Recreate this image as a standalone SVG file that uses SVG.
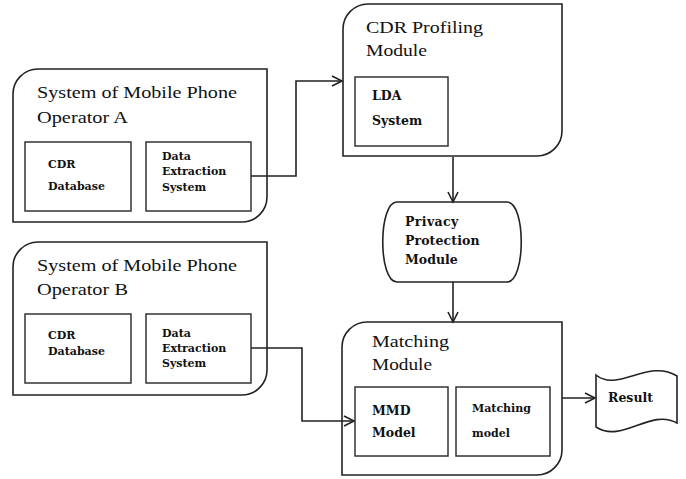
<svg xmlns="http://www.w3.org/2000/svg" width="686" height="479" viewBox="0 0 686 479">
  <defs>
    <marker id="arr" markerUnits="userSpaceOnUse" markerWidth="14" markerHeight="14" refX="11" refY="6" orient="auto">
      <path d="M1,1 L11,6 L1,11" fill="none" stroke="#222" stroke-width="1.6"/>
    </marker>
    <style>
      .outer { fill: #fff; stroke: #222; stroke-width: 1.6; }
      .inner { fill: #fff; stroke: #333; stroke-width: 1.5; }
      .conn { fill: none; stroke: #222; stroke-width: 1.6; }
      .title { font-family: "Liberation Serif", "DejaVu Serif", serif; font-size: 17.5px; fill: #111; }
      .small { font-family: "DejaVu Serif", "Liberation Serif", serif; font-size: 11px; font-weight: bold; fill: #111; }
      .mid { font-family: "DejaVu Serif", "Liberation Serif", serif; font-size: 12.5px; font-weight: bold; fill: #111; }
    </style>
  </defs>

  <g id="operatorA">
    <path class="outer" d="M38,69 H267 V197 A25,25 0 0 1 242,222 H13 V94 A25,25 0 0 1 38,69 Z"/>
    <text class="title" x="37" y="98" textLength="200" lengthAdjust="spacingAndGlyphs">System of Mobile Phone</text>
    <text class="title" x="37" y="123" textLength="91" lengthAdjust="spacingAndGlyphs">Operator A</text>
    <g id="cdrDatabaseA">
      <rect class="inner" x="25" y="142" width="106" height="69"/>
      <text class="small" x="48" y="168">CDR</text>
      <text class="small" x="48" y="190">Database</text>
    </g>
    <g id="dataExtractionA">
      <rect class="inner" x="146" y="142" width="105" height="69"/>
      <text class="small" x="162" y="160">Data</text>
      <text class="small" x="162" y="175">Extraction</text>
      <text class="small" x="162" y="191">System</text>
    </g>
  </g>

  <g id="operatorB">
    <path class="outer" d="M38,242 H267 V370 A25,25 0 0 1 242,395 H13 V267 A25,25 0 0 1 38,242 Z"/>
    <text class="title" x="37" y="271" textLength="200" lengthAdjust="spacingAndGlyphs">System of Mobile Phone</text>
    <text class="title" x="37" y="295" textLength="91" lengthAdjust="spacingAndGlyphs">Operator B</text>
    <g id="cdrDatabaseB">
      <rect class="inner" x="25" y="314" width="106" height="69"/>
      <text class="small" x="48" y="339">CDR</text>
      <text class="small" x="48" y="355">Database</text>
    </g>
    <g id="dataExtractionB">
      <rect class="inner" x="146" y="314" width="105" height="69"/>
      <text class="small" x="162" y="337">Data</text>
      <text class="small" x="162" y="352">Extraction</text>
      <text class="small" x="162" y="367">System</text>
    </g>
  </g>

  <g id="cdrProfiling">
    <path class="outer" d="M368,4 H562 V131 A25,25 0 0 1 537,156 H343 V29 A25,25 0 0 1 368,4 Z"/>
    <text class="title" x="366" y="33" textLength="117" lengthAdjust="spacingAndGlyphs">CDR Profiling</text>
    <text class="title" x="366" y="56" textLength="61" lengthAdjust="spacingAndGlyphs">Module</text>
    <g id="ldaSystem">
      <rect class="inner" x="355" y="77" width="93" height="69"/>
      <text class="mid" x="372" y="100">LDA</text>
      <text class="mid" x="372" y="125">System</text>
    </g>
  </g>

  <g id="privacy">
    <path class="outer" d="M397,202 H507 C526,202 526,282 507,282 H397 C378,282 378,202 397,202 Z"/>
    <text class="mid" x="405" y="226" letter-spacing="0.4">Privacy</text>
    <text class="mid" x="405" y="245" letter-spacing="0.1">Protection</text>
    <text class="mid" x="405" y="264">Module</text>
  </g>

  <g id="matching">
    <path class="outer" d="M367,322 H562 V450 A25,25 0 0 1 537,475 H342 V347 A25,25 0 0 1 367,322 Z"/>
    <text class="title" x="372" y="347" textLength="77" lengthAdjust="spacingAndGlyphs">Matching</text>
    <text class="title" x="372" y="370" textLength="60" lengthAdjust="spacingAndGlyphs">Module</text>
    <g id="mmdModel">
      <rect class="inner" x="355" y="387" width="93" height="69"/>
      <text class="mid" x="372" y="415">MMD</text>
      <text class="mid" x="372" y="437">Model</text>
    </g>
    <g id="matchingModel">
      <rect class="inner" x="456" y="387" width="94" height="69"/>
      <text class="small" x="472" y="412">Matching</text>
      <text class="small" x="472" y="437">model</text>
    </g>
  </g>

  <g id="result">
    <path class="outer" d="M596,375 C618,393 648,358 677,376 L677,423 C650,408 622,444 596,427 Z"/>
    <text class="mid" x="608" y="402">Result</text>
  </g>

  <g id="connectors">
    <path class="conn" d="M251,176 H296 V81 H342" marker-end="url(#arr)"/>
    <path class="conn" d="M251,348 H302 V421 H354" marker-end="url(#arr)"/>
    <path class="conn" d="M453,157 V202" marker-end="url(#arr)"/>
    <path class="conn" d="M453,282 V322" marker-end="url(#arr)"/>
    <path class="conn" d="M562,398 H595" marker-end="url(#arr)"/>
  </g>
</svg>
